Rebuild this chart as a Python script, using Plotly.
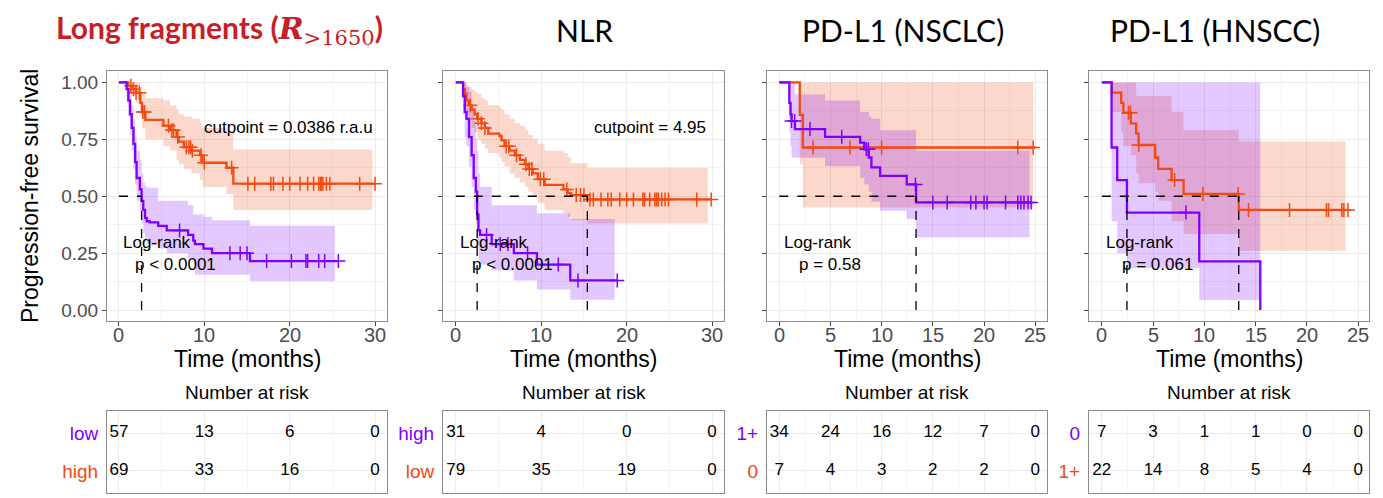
import plotly.graph_objects as go

W, H = 1383, 498
PURPLE = "#7F00FF"
ORANGE = "#F24A10"
PURPLE_FILL = "rgba(127,0,255,0.22)"
ORANGE_FILL = "rgba(242,74,16,0.22)"
BASE_FONT = "Liberation Sans"
TITLE_FONT = "Lato"

# ---------------- Panel 1: Long fragments ----------------
p1_low_t  = [0, 0.9, 1.1, 1.3, 1.5, 1.7, 1.9, 2.07, 2.45, 2.65, 2.85, 3.05, 3.25, 3.6, 4.6, 5.6, 8.1, 8.7, 8.9, 9.9, 10.9, 15.35, 25.7]
p1_low_s  = [1, 0.97, 0.92, 0.86, 0.80, 0.73, 0.65, 0.58, 0.53, 0.48, 0.44, 0.405, 0.39, 0.385, 0.37, 0.35, 0.33, 0.305, 0.29, 0.27, 0.25, 0.215, 0.215]
p1_low_lo = [1, 0.92, 0.85, 0.77, 0.70, 0.62, 0.55, 0.48, 0.43, 0.38, 0.34, 0.31, 0.29, 0.285, 0.27, 0.25, 0.23, 0.20, 0.155, 0.155, 0.155, 0.127, 0.127]
p1_low_hi = [1, 1.0, 0.99, 0.95, 0.90, 0.84, 0.77, 0.70, 0.66, 0.60, 0.56, 0.545, 0.537, 0.537, 0.48, 0.48, 0.46, 0.42, 0.42, 0.41, 0.395, 0.37, 0.37]
p1_low_ci_end = 25.3
p1_low_cens = [7.1, 13.0, 14.2, 15.0, 17.3, 20.2, 21.9, 22.1, 23.4, 24.1, 25.7]

p1_high_t  = [0, 1.1, 1.6, 2.0, 2.5, 2.7, 3.1, 5.2, 6.0, 6.75, 7.0, 7.6, 8.5, 9.5, 9.8, 12.6, 13.4, 30]
p1_high_s  = [1, 0.985, 0.97, 0.955, 0.91, 0.87, 0.835, 0.81, 0.79, 0.76, 0.74, 0.715, 0.70, 0.68, 0.647, 0.625, 0.555, 0.555]
p1_high_lo = [1, 0.96, 0.94, 0.91, 0.86, 0.80, 0.75, 0.72, 0.70, 0.66, 0.64, 0.62, 0.60, 0.57, 0.54, 0.51, 0.44, 0.44]
p1_high_hi = [1, 1, 1, 1, 0.98, 0.95, 0.93, 0.92, 0.90, 0.88, 0.86, 0.85, 0.84, 0.82, 0.80, 0.78, 0.705, 0.705]
p1_high_ci_end = 29.7
p1_high_cens = [1.4, 1.7, 2.0, 2.4, 2.8, 3.0, 5.8, 6.2, 6.4, 6.9, 7.9, 8.2, 8.4, 8.6, 9.6, 10.0, 13.2,
                15.1, 15.9, 17.8, 18.1, 19.2, 20.0, 21.2, 22.1, 22.8, 23.4, 23.6, 23.7, 23.9, 24.3, 24.7, 28.2, 30]

# ---------------- Panel 2: NLR ----------------
p2_high_t  = [0, 0.85, 1.05, 1.25, 1.55, 1.85, 2.1, 2.35, 2.5, 2.65, 2.85, 4.2, 6.8, 9.5, 13.4, 18.9]
p2_high_s  = [1, 0.94, 0.87, 0.84, 0.76, 0.68, 0.58, 0.52, 0.42, 0.35, 0.33, 0.29, 0.25, 0.20, 0.13, 0.13]
p2_high_lo = [1, 0.86, 0.76, 0.72, 0.63, 0.54, 0.44, 0.38, 0.29, 0.22, 0.20, 0.175, 0.13, 0.09, 0.045, 0.045]
p2_high_hi = [1, 1, 1, 0.98, 0.96, 0.90, 0.83, 0.75, 0.70, 0.60, 0.54, 0.46, 0.46, 0.425, 0.40, 0.40]
p2_high_ci_end = 18.6
p2_high_cens = [3.6, 5.2, 6.1, 8.4, 12.0, 14.3, 18.9]

p2_low_t  = [0, 0.85, 1.05, 1.25, 1.55, 1.85, 2.2, 2.5, 3.0, 3.4, 3.8, 5.1, 5.35, 5.7, 6.3, 6.9, 7.5, 8.1, 8.5, 9.0, 9.6, 10.4, 12.6, 13.1, 13.5, 15.4, 29.9]
p2_low_s  = [1, 0.97, 0.95, 0.92, 0.90, 0.88, 0.86, 0.84, 0.82, 0.80, 0.775, 0.765, 0.745, 0.72, 0.70, 0.68, 0.66, 0.64, 0.62, 0.60, 0.575, 0.55, 0.53, 0.515, 0.505, 0.486, 0.486]
p2_low_lo = [1, 0.93, 0.90, 0.86, 0.83, 0.80, 0.78, 0.75, 0.73, 0.71, 0.69, 0.67, 0.65, 0.63, 0.60, 0.58, 0.56, 0.54, 0.52, 0.50, 0.47, 0.44, 0.425, 0.41, 0.395, 0.38, 0.38]
p2_low_hi = [1, 1, 1, 0.99, 0.98, 0.97, 0.96, 0.95, 0.93, 0.92, 0.90, 0.89, 0.88, 0.86, 0.84, 0.82, 0.81, 0.79, 0.77, 0.75, 0.73, 0.70, 0.69, 0.67, 0.645, 0.625, 0.625]
p2_low_ci_end = 29.5
p2_low_cens = [1.7, 2.6, 3.0, 3.4, 5.9, 6.2, 7.1, 8.2, 8.6, 8.9, 9.9, 10.3, 13.0, 14.1, 14.6, 15.0, 15.7, 16.1,
               17.0, 17.8, 18.2, 19.2, 20.0, 20.8, 21.9, 22.1, 22.7, 23.3, 23.5, 23.7, 24.1, 24.5, 24.9, 28.2, 29.9]

# ---------------- Panel 3: PD-L1 (NSCLC) ----------------
p3_pos_t  = [0, 0.98, 1.1, 1.2, 1.53, 4.47, 7.9, 8.3, 8.75, 9.0, 9.85, 12.45, 13.36, 24.6]
p3_pos_s  = [1, 0.91, 0.86, 0.83, 0.795, 0.761, 0.735, 0.706, 0.67, 0.627, 0.589, 0.552, 0.473, 0.473]
p3_pos_lo = [1, 0.78, 0.72, 0.67, 0.669, 0.632, 0.58, 0.552, 0.52, 0.476, 0.436, 0.40, 0.32, 0.32]
p3_pos_hi = [1, 1, 1, 1, 0.947, 0.92, 0.87, 0.87, 0.85, 0.84, 0.79, 0.79, 0.70, 0.70]
p3_pos_ci_end = 24.45
p3_pos_cens = [1.2, 1.5, 3.0, 6.1, 8.5, 8.7, 13.3, 15.0, 16.4, 18.7, 19.2, 20.0, 20.3, 22.1, 23.3, 23.6, 23.9, 24.3, 24.6]

p3_zero_t  = [0, 2.0, 2.3, 25.0]
p3_zero_s  = [1, 0.857, 0.714, 0.714]
p3_zero_lo = [1, 0.64, 0.45, 0.45]
p3_zero_hi = [1, 1, 1, 1]
p3_zero_ci_end = 24.8
p3_zero_cens = [3.3, 6.9, 10.0, 23.3, 24.8]

# ---------------- Panel 4: PD-L1 (HNSCC) ----------------
p4_zero_t  = [0, 0.95, 1.5, 2.45, 9.5, 15.45]
p4_zero_s  = [1, 0.714, 0.571, 0.428, 0.214, 0.0]
p4_zero_lo = [1, 0.39, 0.25, 0.185, 0.044, 0.044]
p4_zero_hi = [1, 1, 1, 1, 1, 1]
p4_zero_ci_end = 15.45
p4_zero_cens = [8.2]

p4_pos_t  = [0, 0.98, 1.89, 2.1, 2.83, 3.35, 3.58, 5.2, 5.5, 6.8, 7.97, 13.35, 24.0]
p4_pos_s  = [1, 0.955, 0.91, 0.867, 0.82, 0.776, 0.725, 0.67, 0.62, 0.571, 0.51, 0.44, 0.44]
p4_pos_lo = [1, 0.87, 0.78, 0.72, 0.68, 0.60, 0.557, 0.52, 0.48, 0.39, 0.334, 0.26, 0.26]
p4_pos_hi = [1, 1, 1, 1, 1, 0.94, 0.94, 0.94, 0.94, 0.87, 0.79, 0.74, 0.74]
p4_pos_ci_end = 23.76
p4_pos_cens = [2.6, 2.8, 3.6, 7.1, 9.85, 13.3, 14.3, 18.3, 21.9, 22.1, 23.4, 23.6, 24.0]

# ---------------- Titles, labels, risk tables ----------------
panel_titles = [
    "<b>Long fragments (</b><span style='font-family:DejaVu Serif'><b><i>R</i></b><sub>&gt;1650</sub></span><b>)</b>",
    "NLR", "PD-L1 (NSCLC)", "PD-L1 (HNSCC)"]
cutpoint_texts = ["cutpoint = 0.0386 r.a.u", "cutpoint = 4.95", None, None]
pvalue_texts = ["p < 0.0001", "p < 0.0001", "p = 0.58", "p = 0.061"]

xticks_30 = [0, 10, 20, 30]
xticks_25 = [0, 5, 10, 15, 20, 25]

p1_group_labels = ["low", "high"]
p1_risk_purple = [57, 13, 6, 0]
p1_risk_orange = [69, 33, 16, 0]
p2_group_labels = ["high", "low"]
p2_risk_purple = [31, 4, 0, 0]
p2_risk_orange = [79, 35, 19, 0]
p3_group_labels = ["1+", "0"]
p3_risk_purple = [34, 24, 16, 12, 7, 0]
p3_risk_orange = [7, 4, 3, 2, 2, 0]
p4_group_labels = ["0", "1+"]
p4_risk_purple = [7, 3, 1, 1, 0, 0]
p4_risk_orange = [22, 14, 8, 5, 4, 0]

panels = [
    dict(purple=(p1_low_t, p1_low_s, p1_low_lo, p1_low_hi, p1_low_ci_end, p1_low_cens),
         orange=(p1_high_t, p1_high_s, p1_high_lo, p1_high_hi, p1_high_ci_end, p1_high_cens),
         ticks=xticks_30, labels=p1_group_labels, rp=p1_risk_purple, ro=p1_risk_orange,
         px=(107, 387), xr=(-1.4, 31.4), title_x=219,
         cut_xy=(19.9, 0.80), lr_xy=(4.5, 0.295), p_xy=(6.6, 0.198)),
    dict(purple=(p2_high_t, p2_high_s, p2_high_lo, p2_high_hi, p2_high_ci_end, p2_high_cens),
         orange=(p2_low_t, p2_low_s, p2_low_lo, p2_low_hi, p2_low_ci_end, p2_low_cens),
         ticks=xticks_30, labels=p2_group_labels, rp=p2_risk_purple, ro=p2_risk_orange,
         px=(443, 724), xr=(-1.5, 31.4), title_x=584,
         cut_xy=(22.7, 0.80), lr_xy=(4.5, 0.295), p_xy=(6.6, 0.198)),
    dict(purple=(p3_pos_t, p3_pos_s, p3_pos_lo, p3_pos_hi, p3_pos_ci_end, p3_pos_cens),
         orange=(p3_zero_t, p3_zero_s, p3_zero_lo, p3_zero_hi, p3_zero_ci_end, p3_zero_cens),
         ticks=xticks_25, labels=p3_group_labels, rp=p3_risk_purple, ro=p3_risk_orange,
         px=(767, 1047), xr=(-1.2, 26.15), title_x=903,
         cut_xy=None, lr_xy=(3.8, 0.295), p_xy=(5.0, 0.198)),
    dict(purple=(p4_zero_t, p4_zero_s, p4_zero_lo, p4_zero_hi, p4_zero_ci_end, p4_zero_cens),
         orange=(p4_pos_t, p4_pos_s, p4_pos_lo, p4_pos_hi, p4_pos_ci_end, p4_pos_cens),
         ticks=xticks_25, labels=p4_group_labels, rp=p4_risk_purple, ro=p4_risk_orange,
         px=(1089, 1369), xr=(-1.25, 26.05), title_x=1215,
         cut_xy=None, lr_xy=(3.75, 0.295), p_xy=(5.4, 0.198)),
]


def step_at(ts, ss, c):
    val = ss[0]
    for t, s in zip(ts, ss):
        if t <= c:
            val = s
    return val


def median_of(ts, ss):
    for t, s in zip(ts, ss):
        if s <= 0.5:
            return t
    return None


fig = go.Figure()
layout = dict(width=W, height=H, margin=dict(l=0, r=0, t=0, b=0),
              paper_bgcolor="white", plot_bgcolor="white", showlegend=False,
              font=dict(family=BASE_FONT, color="black"))
annotations = []
shapes = []

KM_Y = (1 - 321 / H, 1 - 71 / H)
TB_Y = (1 - 493 / H, 1 - 411 / H)
YR = (-0.048, 1.05)

for k, p in enumerate(panels):
    i_km = 2 * k + 1
    i_tb = 2 * k + 2
    xdom = (p["px"][0] / W, p["px"][1] / W)
    xa_km, ya_km = f"x{i_km}", f"y{i_km}"
    xa_tb, ya_tb = f"x{i_tb}", f"y{i_tb}"
    ticks = p["ticks"]
    step = ticks[1] - ticks[0]
    minor_x = [t + step / 2 for t in ticks[:-1]]

    # bands
    for key, fillc in (("orange", ORANGE_FILL), ("purple", PURPLE_FILL)):
        ts, ss, lo, hi, ci_end, cens = p[key]
        bx = list(ts[:-1]) + [ci_end]
        fig.add_trace(go.Scatter(x=bx, y=lo, mode="lines", line=dict(width=0, shape="hv"),
                                 xaxis=xa_km, yaxis=ya_km, hoverinfo="skip"))
        fig.add_trace(go.Scatter(x=bx, y=hi, mode="lines", line=dict(width=0, shape="hv"),
                                 fill="tonexty", fillcolor=fillc,
                                 xaxis=xa_km, yaxis=ya_km, hoverinfo="skip"))

    # median dashed lines
    meds = [m for m in (median_of(p["purple"][0], p["purple"][1]),
                        median_of(p["orange"][0], p["orange"][1])) if m is not None]
    if meds:
        shapes.append(dict(type="line", xref=xa_km, yref=ya_km, x0=0, x1=max(meds), y0=0.5, y1=0.5,
                           line=dict(color="black", width=1.3, dash="dash")))
        for m in meds:
            shapes.append(dict(type="line", xref=xa_km, yref=ya_km, x0=m, x1=m, y0=0, y1=0.5,
                               line=dict(color="black", width=1.3, dash="dash")))

    # curves and censor marks
    for key, col in (("orange", ORANGE), ("purple", PURPLE)):
        ts, ss, lo, hi, ci_end, cens = p[key]
        fig.add_trace(go.Scatter(x=ts, y=ss, mode="lines", line=dict(color=col, width=2.3, shape="hv"),
                                 xaxis=xa_km, yaxis=ya_km))
        fig.add_trace(go.Scatter(x=cens, y=[step_at(ts, ss, c) for c in cens], mode="markers",
                                 marker=dict(symbol="cross-thin", size=10, line=dict(color=col, width=1.5)),
                                 xaxis=xa_km, yaxis=ya_km))

    # risk table numbers
    fig.add_trace(go.Scatter(x=ticks, y=[1] * len(ticks), mode="text", text=[str(v) for v in p["rp"]],
                             textfont=dict(size=17, color="black", family=BASE_FONT),
                             xaxis=xa_tb, yaxis=ya_tb, cliponaxis=False))
    fig.add_trace(go.Scatter(x=ticks, y=[0] * len(ticks), mode="text", text=[str(v) for v in p["ro"]],
                             textfont=dict(size=17, color="black", family=BASE_FONT),
                             xaxis=xa_tb, yaxis=ya_tb, cliponaxis=False))

    common_x = dict(domain=xdom, range=list(p["xr"]), zeroline=False, showline=True, mirror=True,
                    linecolor="#8C8C8C", linewidth=1, showgrid=True, gridcolor="#EBEBEB", gridwidth=1.1,
                    tickvals=ticks,
                    minor=dict(tickvals=minor_x, showgrid=True, gridcolor="#F4F4F4", gridwidth=0.6, ticks=""))
    layout[f"xaxis{i_km}"] = dict(common_x, anchor=ya_km, ticks="outside", ticklen=4, tickcolor="#444",
                                  showticklabels=False)
    layout[f"yaxis{i_km}"] = dict(domain=KM_Y, range=list(YR), anchor=xa_km, zeroline=False,
                                  showline=True, mirror=True, linecolor="#8C8C8C", linewidth=1,
                                  tickvals=[0, 0.25, 0.5, 0.75, 1.0],
                                  ticktext=["0.00", "0.25", "0.50", "0.75", "1.00"],
                                  showticklabels=(k == 0), ticks="outside", ticklen=4, tickcolor="#444",
                                  tickfont=dict(size=19, color="#4D4D4D", family=BASE_FONT),
                                  showgrid=True, gridcolor="#EBEBEB", gridwidth=1.1,
                                  minor=dict(tickvals=[0.125, 0.375, 0.625, 0.875], showgrid=True,
                                             gridcolor="#F4F4F4", gridwidth=0.6, ticks=""))
    layout[f"xaxis{i_tb}"] = dict(common_x, anchor=ya_tb, showticklabels=False, ticks="")
    lab_purple, lab_orange = p["labels"]
    layout[f"yaxis{i_tb}"] = dict(domain=TB_Y, range=[-0.58, 1.58], anchor=xa_tb, zeroline=False,
                                  showline=True, mirror=True, linecolor="#8C8C8C", linewidth=1,
                                  tickvals=[0, 1],
                                  ticktext=[f"<span style='color:{ORANGE}'>{lab_orange}</span>",
                                            f"<span style='color:{PURPLE}'>{lab_purple}</span>"],
                                  ticks="", tickfont=dict(size=19, family=BASE_FONT),
                                  ticklabelstandoff=4,
                                  showgrid=True, gridcolor="#EBEBEB", gridwidth=1.1)

    # x tick labels placed just under the panel
    for t in ticks:
        annotations.append(dict(text=str(t), xref=xa_km, yref="paper", x=t, y=1 - 335 / H,
                                showarrow=False, xanchor="center", yanchor="middle",
                                font=dict(size=20, color="#4D4D4D", family=BASE_FONT)))

    # annotations
    cx = (p["px"][0] + p["px"][1]) / 2 / W
    annotations.append(dict(text=panel_titles[k], xref="paper", yref="paper", x=p["title_x"] / W,
                            y=1 - 30 / H, showarrow=False, xanchor="center", yanchor="middle",
                            font=dict(size=30, family=TITLE_FONT,
                                      color="#C81E28" if k == 0 else "black")))
    annotations.append(dict(text="Time (months)", xref="paper", yref="paper", x=cx, y=1 - 359 / H,
                            showarrow=False, xanchor="center", yanchor="middle",
                            font=dict(size=23, family=BASE_FONT, color="black")))
    annotations.append(dict(text="Number at risk", xref="paper", yref="paper", x=cx, y=1 - 392 / H,
                            showarrow=False, xanchor="center", yanchor="middle",
                            font=dict(size=19, family=BASE_FONT, color="black")))
    if p["cut_xy"] is not None:
        annotations.append(dict(text=cutpoint_texts[k], xref=xa_km, yref=ya_km, x=p["cut_xy"][0],
                                y=p["cut_xy"][1], showarrow=False, xanchor="center", yanchor="middle",
                                font=dict(size=17, family=BASE_FONT, color="black")))
    annotations.append(dict(text="Log-rank", xref=xa_km, yref=ya_km, x=p["lr_xy"][0], y=p["lr_xy"][1],
                            showarrow=False, xanchor="center", yanchor="middle",
                            font=dict(size=17, family=BASE_FONT, color="black")))
    annotations.append(dict(text=pvalue_texts[k], xref=xa_km, yref=ya_km, x=p["p_xy"][0], y=p["p_xy"][1],
                            showarrow=False, xanchor="center", yanchor="middle",
                            font=dict(size=17, family=BASE_FONT, color="black")))

annotations.append(dict(text="Progression-free survival", xref="paper", yref="paper", x=30 / W,
                        y=1 - 196 / H, showarrow=False, textangle=-90, xanchor="center", yanchor="middle",
                        font=dict(size=23, family=BASE_FONT, color="black")))

layout["annotations"] = annotations
layout["shapes"] = shapes
fig.update_layout(**layout)
fig.write_html("out.html", config={"displayModeBar": False},
               post_script="document.body.style.margin='0';document.body.style.overflow='hidden';")
